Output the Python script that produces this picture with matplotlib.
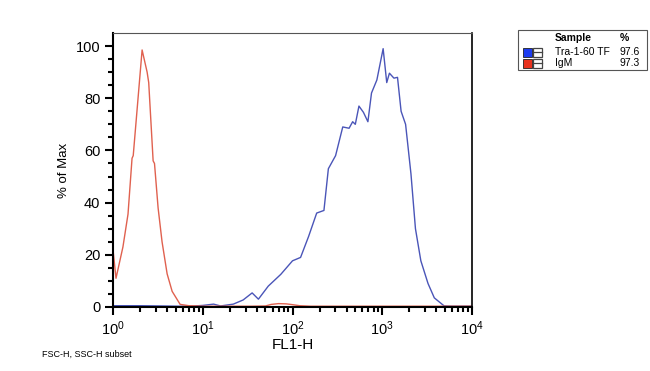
import numpy as np
import matplotlib
matplotlib.use("Agg")
import matplotlib.pyplot as plt
from matplotlib.patches import Rectangle
from matplotlib.ticker import FixedLocator, LogLocator, NullFormatter

plt.rcParams['font.family'] = ['Liberation Sans', 'DejaVu Sans']
plt.rcParams['mathtext.default'] = 'regular'

# IgM control (red)
igm_x = [1.0, 1.0, 1.08, 1.29, 1.47, 1.63, 1.68, 2.11, 2.4, 2.5, 2.8, 2.9, 3.18,
         3.52, 4.01, 4.56, 5.6, 7.0, 8.5, 10, 14, 20, 35, 50, 58, 70, 85, 100,
         120, 160, 300, 1000, 3000, 10000]
igm_y = [0, 22, 11, 23, 35.6, 57, 58, 98.5, 90, 86, 56, 55, 38,
         25, 12.7, 6, 1.0, 0.5, 0.4, 0.3, 0.3, 0.3, 0.3, 0.4, 1.0, 1.3, 1.2, 0.9,
         0.5, 0.3, 0.3, 0.3, 0.3, 0.3]

# Tra-1-60 TF (blue)
tra_x = [1.0, 2.0, 3.5, 5.6, 8.0, 10, 13.2, 15.8, 21.9, 28.2, 35.5, 41.7, 53.7,
         74, 100, 123, 151, 186, 224, 251, 302, 363, 427, 468, 501, 550, 617,
         692, 759, 871, 1023, 1122, 1202, 1349, 1479, 1622, 1820, 2089, 2344,
         2692, 3236, 3802, 4898, 6000, 10000]
tra_y = [0.5, 0.5, 0.4, 0.3, 0.4, 0.6, 1.1, 0.4, 1.1, 2.7, 5.4, 3.0, 8.0,
         12.5, 17.7, 19, 27, 36, 37, 53, 58, 69, 68.5, 71, 70, 77, 74.6,
         71, 82, 87, 99, 86, 89.6, 87.7, 88, 75, 70, 51, 30,
         17.7, 9, 3.5, 0.4, 0.3, 0.3]

samples = ['Tra-1-60 TF', 'IgM']
percents = ['97.6', '97.3']
legend_colors = ['#1d3cf0', '#e8321e']

fig = plt.figure(figsize=(6.5, 3.71), dpi=100)
ax = fig.add_axes([113 / 650, 1 - 307 / 371, 359 / 650, 274 / 371])

ax.plot(tra_x, tra_y, color='#4a55b8', lw=1.0)
ax.plot(igm_x, igm_y, color='#e0614f', lw=1.0)

ax.set_xscale('log')
ax.set_xlim(1, 10000)
ax.set_ylim(0, 105)
ax.set_xticks([1, 10, 100, 1000, 10000])
ax.set_xticklabels([r'$10^{%d}$' % i for i in range(5)], fontsize=10.5)
ax.xaxis.set_minor_locator(LogLocator(base=10, subs=np.arange(2, 10)))
ax.xaxis.set_minor_formatter(NullFormatter())
ax.set_yticks([0, 20, 40, 60, 80, 100])
ax.set_yticklabels(['0', '20', '40', '60', '80', '100'], fontsize=10.5)
ax.yaxis.set_minor_locator(FixedLocator(np.arange(0, 101, 5)))
ax.tick_params(which='major', direction='out', length=6, width=1.5, pad=3)
ax.tick_params(which='minor', direction='out', length=3.5, width=1.5)
for side in ['left', 'bottom']:
    ax.spines[side].set_linewidth(1.5)
ax.spines['right'].set_linewidth(1.2)
ax.spines['top'].set_linewidth(0.8)
ax.spines['top'].set_color('#555555')

ax.set_xlabel('FL1-H', fontsize=11, labelpad=0)
ax.set_ylabel('% of Max', fontsize=9.5, labelpad=4)
fig.text(42 / 650, 1 - 354 / 371, 'FSC-H, SSC-H subset', fontsize=6.5, va='center')


def fx(p):
    return p / 650


def fy(p):
    return 1 - p / 371


# legend box
fig.add_artist(Rectangle((fx(518), fy(70)), fx(129), 40 / 371, transform=fig.transFigure,
                         fill=False, ec='#555555', lw=0.8))
fig.text(fx(555), fy(38), 'Sample', fontsize=7.5, fontweight='bold', va='center')
fig.text(fx(620), fy(38), '%', fontsize=7.5, fontweight='bold', va='center')
for i, (name, pct, col) in enumerate(zip(samples, percents, legend_colors)):
    yc = 52 + i * 11
    fig.add_artist(Rectangle((fx(523), fy(yc + 4.5)), fx(9), 9 / 371, transform=fig.transFigure,
                             fc=col, ec='#222222', lw=0.6))
    fig.add_artist(Rectangle((fx(533), fy(yc + 4.5)), fx(9), 9 / 371, transform=fig.transFigure,
                             fill=False, ec='#444444', lw=0.9))
    fig.add_artist(plt.Line2D([fx(533), fx(542)], [fy(yc), fy(yc)], transform=fig.transFigure,
                              color='#444444', lw=0.9))
    fig.text(fx(555), fy(yc), name, fontsize=7.5, va='center')
    fig.text(fx(620), fy(yc), pct, fontsize=7.5, va='center')

fig.savefig('out.png', dpi=100)
